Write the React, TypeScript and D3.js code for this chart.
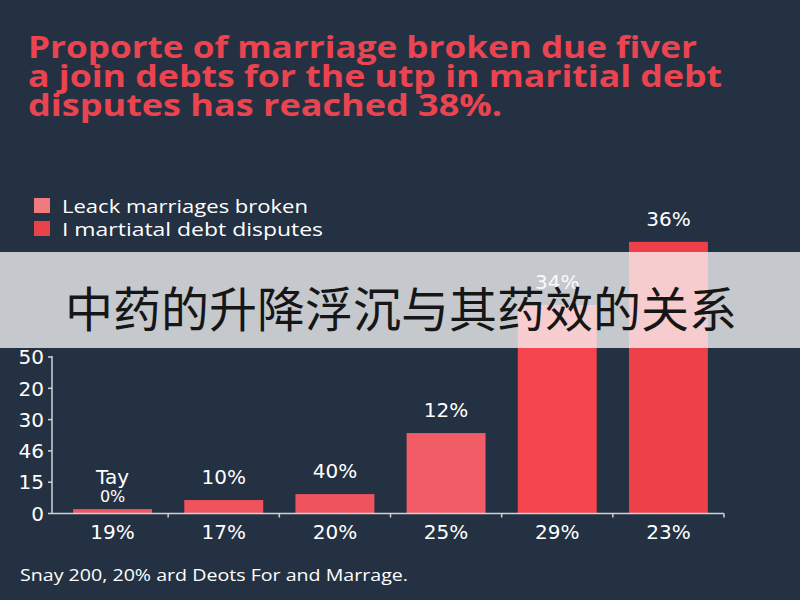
import React from "react";
import * as d3 from "d3";

const titleLines = [
  "Proporte of marriage broken due fiver",
  "a join debts for the utp in maritial debt",
  "disputes has reached 38%.",
];
const legendLabels = ["Leack marriages broken", "I martiatal debt disputes"];
const categories = ["19%", "17%", "20%", "25%", "29%", "23%"];
const barValues = [1.4, 4.3, 6.2, 25.7, 66.6, 86.8];
const valueLabels = ["Tay", "10%", "40%", "12%", "34%", "36%"];
const subLabels = ["0%", "", "", "", "", ""];
const yTickValues = [0, 10, 20, 30, 40, 50];
const yTickLabels = ["0", "15", "46", "30", "20", "50"];
const footerText = "Snay 200, 20% ard Deots For and Marrage.";
const bannerText = "中药的升降浮沉与其药效的关系";

const W = 800;
const H = 600;
const BG = "#243142";
const barColors = ["#ee5660", "#ef535d", "#ef545e", "#f25c66", "#f5454d", "#ee4048"];
const legendColors = ["#f07a7e", "#e8434b"];
const axisColor = "#cfd3d8";
const sans = "'Open Sans', 'Noto Sans', 'DejaVu Sans', sans-serif";
const wide = "'DejaVu Sans', 'Open Sans', sans-serif";

export default function App() {
  const x = d3
    .scaleBand<string>()
    .domain(categories)
    .range([57, 724])
    .paddingInner(0.29)
    .paddingOuter(0.145);
  const y = d3.scaleLinear().domain([0, 50]).range([513.5, 357]);
  const base = y(0);
  const halfGap = (x.step() * 0.29) / 2;

  return (
    <svg
      width={W}
      height={H}
      viewBox={`0 0 ${W} ${H}`}
      style={{ position: "absolute", left: 0, top: 0, display: "block" }}
    >
      <rect x={0} y={0} width={W} height={H} fill={BG} />

      {/* Title */}
      {titleLines.map((t, i) => (
        <text
          key={i}
          x={28}
          y={58 + i * 29}
          fill="#ea4450"
          fontFamily={sans}
          fontWeight={700}
          fontSize={30}
          textLength={[669, 694, 474][i]}
          lengthAdjust="spacingAndGlyphs"
        >
          {t}
        </text>
      ))}

      {/* Legend */}
      {legendLabels.map((l, i) => (
        <g key={l} transform={`translate(0, ${i * 23})`}>
          <rect x={34} y={198} width={16} height={15} fill={legendColors[i]} />
          <text
            x={62}
            y={212.5}
            fill="#ffffff"
            fontFamily={sans}
            fontSize={18.5}
            textLength={[246, 261][i]}
            lengthAdjust="spacingAndGlyphs"
          >
            {l}
          </text>
        </g>
      ))}

      {/* Bars */}
      {categories.map((c, i) => (
        <rect
          key={c}
          x={x(c)}
          y={y(barValues[i])}
          width={x.bandwidth()}
          height={base - y(barValues[i])}
          fill={barColors[i]}
        />
      ))}

      {/* Value labels */}
      {categories.map((c, i) => {
        const cx = (x(c) as number) + x.bandwidth() / 2;
        const ly = Math.min(y(barValues[i]) - 16, base - 29.5);
        return (
          <g key={"v" + c}>
            <text
              x={cx}
              y={ly}
              textAnchor="middle"
              fill="#ffffff"
              fontFamily={wide}
              fontSize={20}
            >
              {valueLabels[i]}
            </text>
            {subLabels[i] && (
              <text
                x={cx}
                y={ly + 18}
                textAnchor="middle"
                fill="#ffffff"
                fontFamily={wide}
                fontSize={16}
              >
                {subLabels[i]}
              </text>
            )}
          </g>
        );
      })}

      {/* Y axis */}
      <line x1={52} x2={52} y1={y(50) - 1} y2={base} stroke={axisColor} strokeWidth={1.5} />
      {yTickValues.map((v, i) => (
        <g key={"y" + v}>
          <line x1={48} x2={52} y1={y(v)} y2={y(v)} stroke={axisColor} strokeWidth={1.5} />
          <text
            x={44}
            y={y(v)}
            dy="0.36em"
            textAnchor="end"
            fill="#ffffff"
            fontFamily={wide}
            fontSize={20}
          >
            {yTickLabels[i]}
          </text>
        </g>
      ))}

      {/* X axis */}
      <line
        x1={52}
        x2={(x(categories[categories.length - 1]) as number) + x.bandwidth() + halfGap}
        y1={base}
        y2={base}
        stroke={axisColor}
        strokeWidth={1.5}
      />
      {categories.map((c) => {
        const tx = (x(c) as number) + x.bandwidth() + halfGap;
        return (
          <line key={"xt" + c} x1={tx} x2={tx} y1={base} y2={base + 4} stroke={axisColor} strokeWidth={1.5} />
        );
      })}
      {categories.map((c) => (
        <text
          key={"xl" + c}
          x={(x(c) as number) + x.bandwidth() / 2}
          y={539}
          textAnchor="middle"
          fill="#ffffff"
          fontFamily={wide}
          fontSize={20}
        >
          {c}
        </text>
      ))}

      {/* Footer */}
      <text
        x={20}
        y={581}
        fill="#ffffff"
        fontFamily={sans}
        fontSize={17}
        textLength={388}
        lengthAdjust="spacingAndGlyphs"
      >
        {footerText}
      </text>

      {/* Banner overlay */}
      <rect x={0} y={252} width={W} height={96} fill="rgb(248,249,250)" fillOpacity={0.76} />
      <text
        x={401}
        y={327}
        textAnchor="middle"
        fill="#161616"
        fontFamily="'Noto Sans CJK SC', 'Noto Sans', sans-serif"
        fontSize={48}
      >
        {bannerText}
      </text>
    </svg>
  );
}
